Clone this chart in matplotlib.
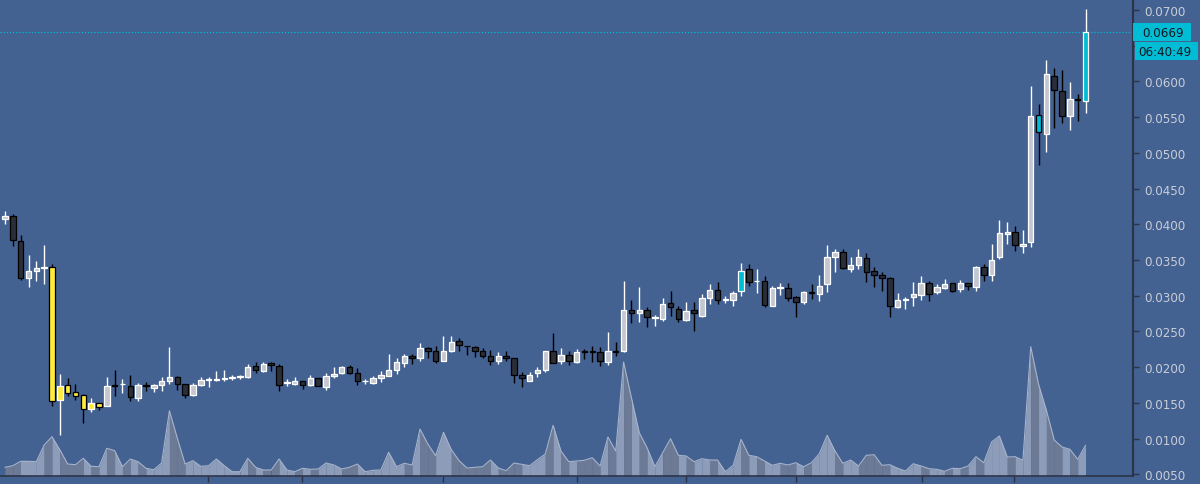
import numpy as np
import matplotlib
matplotlib.use("Agg")
import matplotlib.pyplot as plt
from matplotlib.patches import Rectangle

# OHLC, one value per candle
opens = [0.0407, 0.0412, 0.0377, 0.0325, 0.0335, 0.0339, 0.0340, 0.0154, 0.0175, 0.0165,
         0.0161, 0.0141, 0.0150, 0.0146, 0.0175, 0.0176, 0.0174, 0.0157, 0.0175, 0.0171,
         0.0175, 0.0180, 0.0186, 0.0176, 0.0161, 0.0175, 0.0182, 0.0182, 0.0183, 0.0185,
         0.0186, 0.0186, 0.0202, 0.0195, 0.0206, 0.0202, 0.0178, 0.0177, 0.0180, 0.0175,
         0.0185, 0.0172, 0.0188, 0.0192, 0.0200, 0.0192, 0.0180, 0.0178, 0.0185, 0.0188,
         0.0196, 0.0206, 0.0216, 0.0213, 0.0227, 0.0222, 0.0209, 0.0222, 0.0237, 0.0230,
         0.0228, 0.0222, 0.0216, 0.0209, 0.0216, 0.0213, 0.0189, 0.0181, 0.0192, 0.0196,
         0.0222, 0.0209, 0.0217, 0.0207, 0.0222, 0.0222, 0.0221, 0.0207, 0.0222, 0.0222,
         0.0280, 0.0276, 0.0280, 0.0269, 0.0268, 0.0290, 0.0281, 0.0266, 0.0280, 0.0272,
         0.0297, 0.0308, 0.0294, 0.0294, 0.0307, 0.0337, 0.0320, 0.0321, 0.0286, 0.0311,
         0.0311, 0.0298, 0.0291, 0.0305, 0.0302, 0.0316, 0.0354, 0.0361, 0.0337, 0.0343,
         0.0353, 0.0335, 0.0329, 0.0325, 0.0284, 0.0294, 0.0298, 0.0301, 0.0318, 0.0305,
         0.0311, 0.0318, 0.0309, 0.0318, 0.0312, 0.0340, 0.0329, 0.0354, 0.0387, 0.0389,
         0.0370, 0.0375, 0.0553, 0.0526, 0.0608, 0.0587, 0.0552, 0.0575, 0.0573]
highs = [0.0418, 0.0414, 0.0385, 0.0357, 0.0349, 0.0371, 0.0344, 0.0190, 0.0185, 0.0176,
         0.0162, 0.0157, 0.0150, 0.0186, 0.0196, 0.0183, 0.0189, 0.0178, 0.0179, 0.0176,
         0.0186, 0.0228, 0.0188, 0.0177, 0.0178, 0.0186, 0.0186, 0.0195, 0.0196, 0.0189,
         0.0189, 0.0204, 0.0207, 0.0207, 0.0207, 0.0204, 0.0183, 0.0186, 0.0181, 0.0189,
         0.0185, 0.0192, 0.0200, 0.0202, 0.0203, 0.0199, 0.0183, 0.0187, 0.0195, 0.0218,
         0.0213, 0.0218, 0.0218, 0.0234, 0.0228, 0.0230, 0.0244, 0.0244, 0.0241, 0.0230,
         0.0230, 0.0227, 0.0224, 0.0221, 0.0222, 0.0213, 0.0193, 0.0193, 0.0200, 0.0222,
         0.0248, 0.0227, 0.0222, 0.0225, 0.0225, 0.0230, 0.0228, 0.0249, 0.0235, 0.0321,
         0.0294, 0.0312, 0.0284, 0.0273, 0.0297, 0.0307, 0.0285, 0.0291, 0.0291, 0.0302,
         0.0316, 0.0319, 0.0300, 0.0307, 0.0346, 0.0344, 0.0337, 0.0328, 0.0313, 0.0318,
         0.0318, 0.0300, 0.0307, 0.0316, 0.0329, 0.0371, 0.0365, 0.0365, 0.0354, 0.0365,
         0.0360, 0.0340, 0.0333, 0.0326, 0.0304, 0.0298, 0.0319, 0.0328, 0.0321, 0.0316,
         0.0323, 0.0318, 0.0322, 0.0318, 0.0342, 0.0344, 0.0372, 0.0406, 0.0403, 0.0398,
         0.0392, 0.0594, 0.0568, 0.0630, 0.0619, 0.0616, 0.0599, 0.0582, 0.0701]
lows = [0.0400, 0.0370, 0.0322, 0.0312, 0.0321, 0.0316, 0.0145, 0.0105, 0.0160, 0.0154,
        0.0122, 0.0137, 0.0140, 0.0145, 0.0160, 0.0164, 0.0153, 0.0153, 0.0167, 0.0165,
        0.0167, 0.0176, 0.0168, 0.0157, 0.0160, 0.0174, 0.0172, 0.0180, 0.0180, 0.0182,
        0.0184, 0.0185, 0.0192, 0.0193, 0.0195, 0.0167, 0.0174, 0.0175, 0.0169, 0.0173,
        0.0174, 0.0168, 0.0185, 0.0190, 0.0190, 0.0175, 0.0176, 0.0177, 0.0179, 0.0187,
        0.0190, 0.0200, 0.0205, 0.0209, 0.0213, 0.0206, 0.0209, 0.0221, 0.0222, 0.0217,
        0.0214, 0.0213, 0.0203, 0.0204, 0.0209, 0.0178, 0.0172, 0.0181, 0.0186, 0.0193,
        0.0206, 0.0204, 0.0203, 0.0206, 0.0211, 0.0207, 0.0202, 0.0203, 0.0216, 0.0221,
        0.0262, 0.0263, 0.0256, 0.0258, 0.0265, 0.0272, 0.0263, 0.0265, 0.0251, 0.0270,
        0.0288, 0.0288, 0.0290, 0.0286, 0.0300, 0.0314, 0.0304, 0.0284, 0.0286, 0.0301,
        0.0293, 0.0270, 0.0288, 0.0295, 0.0293, 0.0305, 0.0333, 0.0338, 0.0333, 0.0337,
        0.0319, 0.0312, 0.0307, 0.0270, 0.0283, 0.0281, 0.0286, 0.0294, 0.0293, 0.0302,
        0.0309, 0.0305, 0.0305, 0.0308, 0.0307, 0.0321, 0.0321, 0.0351, 0.0372, 0.0363,
        0.0360, 0.0368, 0.0483, 0.0501, 0.0535, 0.0542, 0.0532, 0.0545, 0.0556]
closes = [0.0411, 0.0378, 0.0325, 0.0335, 0.0339, 0.0340, 0.0153, 0.0174, 0.0164, 0.0160,
          0.0141, 0.0150, 0.0144, 0.0174, 0.0174, 0.0177, 0.0158, 0.0175, 0.0174, 0.0175,
          0.0180, 0.0186, 0.0176, 0.0161, 0.0175, 0.0182, 0.0183, 0.0183, 0.0185, 0.0186,
          0.0188, 0.0200, 0.0196, 0.0204, 0.0203, 0.0175, 0.0179, 0.0180, 0.0175, 0.0185,
          0.0174, 0.0188, 0.0190, 0.0200, 0.0192, 0.0181, 0.0181, 0.0185, 0.0189, 0.0196,
          0.0207, 0.0216, 0.0213, 0.0227, 0.0222, 0.0209, 0.0222, 0.0235, 0.0231, 0.0229,
          0.0222, 0.0216, 0.0209, 0.0216, 0.0213, 0.0189, 0.0185, 0.0189, 0.0196, 0.0222,
          0.0206, 0.0217, 0.0209, 0.0221, 0.0221, 0.0221, 0.0209, 0.0222, 0.0221, 0.0280,
          0.0276, 0.0280, 0.0270, 0.0270, 0.0288, 0.0284, 0.0267, 0.0279, 0.0276, 0.0297,
          0.0308, 0.0294, 0.0295, 0.0304, 0.0335, 0.0319, 0.0321, 0.0287, 0.0311, 0.0312,
          0.0297, 0.0291, 0.0305, 0.0304, 0.0313, 0.0354, 0.0361, 0.0339, 0.0343, 0.0354,
          0.0333, 0.0329, 0.0325, 0.0286, 0.0294, 0.0296, 0.0302, 0.0318, 0.0302, 0.0312,
          0.0316, 0.0307, 0.0318, 0.0314, 0.0340, 0.0329, 0.0350, 0.0388, 0.0389, 0.0371,
          0.0372, 0.0552, 0.0529, 0.0610, 0.0588, 0.0552, 0.0575, 0.0574, 0.0669]
volumes = [8.7, 10.3, 14.7, 14.7, 14.3, 31, 39.3, 26.3, 12, 11.3,
           17.7, 9.7, 9.3, 27.7, 25.3, 9.3, 17, 14.3, 7.7, 6.3,
           13, 65.3, 38, 12, 15.3, 9.7, 10.3, 17, 10.3, 4.3,
           4.3, 17.7, 8.7, 6, 6, 17, 6, 4.3, 7.7, 6.7,
           7, 13, 11, 7, 8.7, 12, 4.3, 5.7, 6, 23.7,
           9.3, 12.7, 11, 47, 32, 20.3, 43.7, 26.3, 15.3, 8,
           8.7, 9.3, 16, 8, 5.3, 13, 11.7, 10.3, 16.3, 22,
           50.7, 25, 14.3, 15, 15.7, 18.3, 10, 39, 25, 114,
           78.3, 43.3, 28.3, 9.3, 23.3, 37.3, 20.7, 20, 14.3, 17.3,
           16, 16, 4.3, 10.7, 36.7, 20.7, 19.3, 15, 10.7, 12.7,
           11, 13.3, 9.3, 13.3, 22.3, 40.7, 25, 12.7, 16, 10,
           20.7, 21.3, 10.7, 11.3, 7.7, 5, 12.3, 10, 7.3, 6.7,
           4.7, 7.7, 7.3, 10, 19.3, 13.3, 34, 40, 19, 19.3,
           15.7, 129.3, 91.7, 65.7, 36, 29, 26.7, 16.7, 30.7]

yellow_bars = [6, 7, 8, 9, 10, 11, 12]
cyan_bars = [94, 132, 138]
day_ticks = [25.9, 37.9, 55.9, 73.0, 87.0, 101.0, 117.1, 128.9]
price_ticks = np.arange(0.005, 0.0701, 0.005)
countdown = "06:40:49"

BG = "#436191"
UP_FILL, UP_EDGE = "#c4c7cf", "#ffffff"
DN_FILL, DN_EDGE = "#2a2e39", "#000000"
YELLOW, CYAN = "#ffeb3b", "#00bcd4"
VOL_LIGHT, VOL_DARK, VOL_LINE = "#8c9cb9", "#6c7a96", "#a7b4cb"
AXIS = "#2b3347"
LABEL = "#c9cdd8"

o = np.array(opens)
h = np.array(highs)
l = np.array(lows)
c = np.array(closes)
v = np.array(volumes)
x = np.arange(len(o))
up = c >= o

fill = np.where(up, UP_FILL, DN_FILL).astype(object)
fill[yellow_bars] = YELLOW
fill[cyan_bars] = CYAN
edge = np.where(up, UP_EDGE, DN_EDGE)

fig = plt.figure(figsize=(12, 4.85), dpi=100, facecolor=BG)
ax = fig.add_axes([0, 8 / 485, 1133 / 1200, 477 / 485])
axv = ax.twinx()
ax.set_zorder(axv.get_zorder() + 1)
ax.patch.set_visible(False)
axv.patch.set_facecolor(BG)

# volume area, shaded per bar
for i in range(1, len(x)):
    col = VOL_LIGHT if up[i] else VOL_DARK
    axv.fill_between(x[i - 1:i + 1], 0, v[i - 1:i + 1], color=col, lw=0)
axv.plot(x, v, color=VOL_LINE, lw=0.8)
axv.set_ylim(0, 477)
axv.axis("off")

# candles
ax.vlines(x, l, h, colors=edge, lw=1.0, zorder=2)
body = np.maximum(np.abs(c - o), 0.00004)
ax.bar(x, body, bottom=np.minimum(o, c), width=0.7, color=fill,
       edgecolor=edge, linewidth=0.9, zorder=3)

last = closes[-1]
ax.axhline(last, color=CYAN, lw=0.9, ls=(0, (1, 1.5)), zorder=1)

ax.set_xlim(-0.64, 144.06)
ax.set_ylim(0.00476, 0.07154)
ax.yaxis.tick_right()
ax.set_yticks(price_ticks)
# the 0.0650 label sits under the last-price box
ax.set_yticklabels(["" if abs(p - 0.065) < 1e-6 else f"{p:.4f}" for p in price_ticks])
ax.tick_params(axis="y", colors=AXIS, labelcolor=LABEL, length=4, width=1,
               pad=4, labelsize=8.6)
ax.set_xticks(day_ticks)
ax.set_xticklabels([])
ax.tick_params(axis="x", colors=AXIS, length=4, width=1)
for s in ["top", "left"]:
    ax.spines[s].set_visible(False)
ax.spines["right"].set_color(AXIS)
ax.spines["right"].set_linewidth(1.5)
ax.spines["bottom"].set_color(AXIS)
ax.spines["bottom"].set_linewidth(1.2)

# price + countdown boxes on the scale
fig.canvas.draw()
_, yp = ax.transData.transform((0, last))
fig.add_artist(Rectangle((1133, yp - 9), 58, 18, transform=None,
                         facecolor=CYAN, edgecolor="none", zorder=10))
fig.text(1142 / 1200, yp / 485, f"{last:.4f}", color="#131722", fontsize=8.6,
         va="center", ha="left", zorder=11)
fig.add_artist(Rectangle((1135, yp - 28), 63, 18, transform=None,
                         facecolor=CYAN, edgecolor="none", zorder=10))
fig.text(1138 / 1200, (yp - 19) / 485, countdown, color="#131722",
         fontsize=8.6, va="center", ha="left", zorder=11)

fig.savefig("out.png", dpi=100, facecolor=BG)
